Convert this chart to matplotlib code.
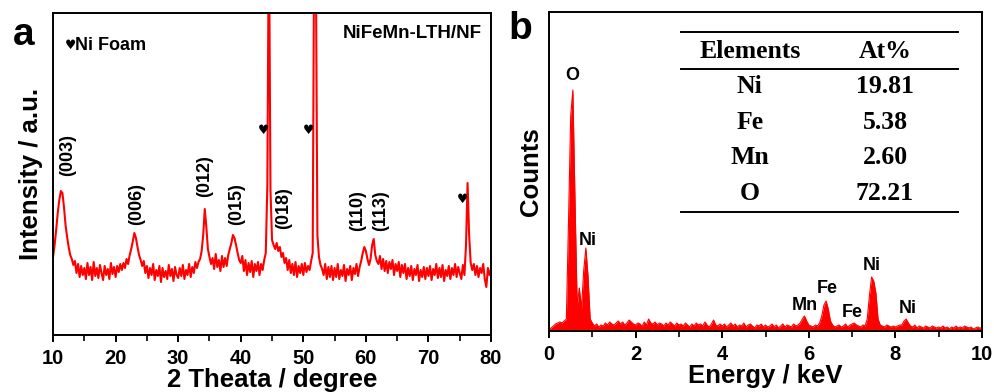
#!/usr/bin/env python
"""XRD pattern (a) and EDS spectrum (b) of NiFeMn-LTH/NF."""

import numpy as np
import matplotlib

matplotlib.use('Agg')
import matplotlib.pyplot as plt  # noqa: E402
from matplotlib.ticker import MultipleLocator  # noqa: E402

# --- (a) XRD: 2theta grid 10..80 deg, step 0.25, intensity in arbitrary units ---
xrd_start, xrd_stop, xrd_step = 10.0, 80.0, 0.25
xrd_intensity = [
    78, 90, 105, 122, 135, 144, 142, 128, 110, 98, 88, 80, 76, 70, 74, 62, 71, 58, 69, 60,
    67, 56, 72, 60, 68, 55, 73, 59, 67, 57, 70, 62, 55, 69, 60, 66, 56, 72, 61, 68,
    58, 69, 63, 71, 65, 72, 67, 76, 71, 80, 86, 94, 102, 97, 88, 80, 75, 69, 74, 62,
    69, 57, 67, 60, 71, 55, 65, 59, 69, 53, 67, 58, 64, 56, 70, 59, 66, 54, 68, 60,
    57, 67, 59, 70, 56, 65, 60, 71, 58, 68, 62, 73, 67, 73, 76, 84, 100, 126, 108, 86,
    78, 71, 77, 66, 81, 68, 75, 64, 79, 68, 77, 69, 80, 86, 92, 100, 97, 90, 82, 75,
    72, 79, 64, 75, 60, 72, 63, 74, 58, 71, 64, 73, 60, 71, 65, 75, 82, 150, 420, 145,
    95, 90, 86, 92, 84, 88, 78, 82, 72, 77, 65, 75, 62, 71, 60, 73, 58, 69, 62, 71,
    60, 72, 63, 69, 65, 74, 82, 420, 380, 100, 78, 70, 66, 60, 71, 56, 68, 58, 69, 55,
    67, 58, 71, 56, 65, 59, 70, 54, 66, 60, 69, 55, 67, 61, 71, 59, 68, 74, 82, 88,
    84, 76, 70, 76, 90, 96, 80, 74, 71, 79, 66, 76, 64, 74, 62, 73, 66, 75, 60, 71,
    64, 73, 58, 70, 62, 71, 56, 67, 59, 69, 55, 66, 60, 70, 54, 65, 58, 68, 56, 67,
    59, 69, 55, 66, 60, 71, 57, 67, 58, 70, 54, 65, 59, 69, 56, 67, 60, 71, 58, 68,
    62, 56, 70, 60, 90, 152, 100, 72, 65, 71, 60, 69, 58, 67, 62, 71, 56, 48, 67, 60,
    66,
]
hkl_labels = ['(003)', '(006)', '(012)', '(015)', '(018)', '(110)', '(113)']
hkl_pos = [(12.4, 180), (23.4, 131), (34.3, 159), (39.4, 131), (46.8, 127), (58.6, 124), (62.3, 124)]
ni_foam_pos = [(43.6, 205), (50.8, 205), (75.5, 136)]

# --- (b) EDS: energy grid 0..10 keV, step 0.05, counts in arbitrary units ---
eds_start, eds_stop, eds_step = 0.0, 10.0, 0.05
eds_counts = [
    2, 3, 5, 7, 8, 9, 8, 10, 12, 110, 215, 241, 130, 25, 43, 22, 60, 83, 55, 12,
    8, 5, 7, 4, 6, 5, 8, 6, 9, 7, 6, 8, 10, 7, 9, 6, 8, 11, 9, 7,
    6, 8, 7, 5, 9, 6, 12, 8, 7, 9, 6, 8, 7, 5, 8, 6, 9, 7, 5, 8,
    6, 7, 5, 8, 6, 4, 7, 5, 8, 6, 7, 5, 9, 6, 4, 7, 11, 6, 5, 7,
    5, 7, 4, 6, 8, 5, 7, 4, 6, 5, 8, 4, 6, 7, 5, 3, 6, 5, 7, 4,
    6, 4, 5, 7, 4, 6, 3, 5, 7, 4, 6, 5, 4, 7, 5, 6, 8, 12, 15, 10,
    6, 5, 4, 6, 5, 8, 15, 26, 30, 22, 10, 6, 4, 5, 6, 4, 5, 7, 4, 6,
    7, 8, 6, 5, 4, 6, 5, 12, 35, 54, 50, 38, 12, 6, 5, 4, 6, 5, 4, 5,
    4, 5, 6, 6, 10, 12, 8, 5, 4, 6, 3, 5, 4, 3, 5, 4, 3, 5, 4, 3,
    4, 3, 5, 3, 4, 2, 4, 3, 5, 3, 4, 3, 5, 4, 3, 4, 2, 3, 4, 3,
    3,
]
eds_labels = ['O', 'Ni', 'Mn', 'Fe', 'Fe', 'Ni', 'Ni']
eds_label_pos = [(0.53, 255), (0.90, 91), (5.91, 26), (6.42, 43), (7.0, 19), (7.46, 66), (8.29, 23)]

table_header = ['Elements', 'At%']
table_elements = ['Ni', 'Fe', 'Mn', 'O']
table_at_pct = ['19.81', '5.38', '2.60', '72.21']

RED = '#ff0000'
SANS = ['Liberation Sans', 'DejaVu Sans']


def _style_axis(ax, major, minor):
    for sp in ax.spines.values():
        sp.set_linewidth(1.4)
    ax.xaxis.set_major_locator(MultipleLocator(major))
    ax.xaxis.set_minor_locator(MultipleLocator(minor))
    ax.tick_params(axis='x', which='major', direction='out', length=5, width=1.4,
                   labelsize=14.5, pad=5)
    ax.tick_params(axis='x', which='minor', direction='out', length=4, width=1.2)
    ax.tick_params(axis='y', left=False, labelleft=False)
    for lab in ax.get_xticklabels():
        lab.set_fontweight('bold')


def main() -> None:
    plt.rcParams['font.family'] = SANS
    plt.rcParams['font.weight'] = 'bold'

    fig = plt.figure(figsize=(9.95, 3.92), dpi=100)

    # --- (a) XRD ---
    ax_a = fig.add_axes([0.0533, 0.1454, 0.4402, 0.8214])
    two_theta = np.arange(xrd_start, xrd_stop + xrd_step / 2, xrd_step)
    ax_a.plot(two_theta, xrd_intensity, color=RED, lw=1.5)
    ax_a.set_xlim(10, 80)
    ax_a.set_ylim(0, 322)
    _style_axis(ax_a, 10, 5)
    ax_a.set_xlabel('2 Theata / degree', fontsize=18.5, fontweight='bold', labelpad=0)
    ax_a.set_ylabel('Intensity / a.u.', fontsize=18.5, fontweight='bold', labelpad=7)

    for lab, (x, y) in zip(hkl_labels, hkl_pos):
        ax_a.text(x, y, lab, rotation=90, ha='center', va='center', fontsize=13,
                  fontweight='bold')
    for x, y in ni_foam_pos:
        ax_a.text(x, y, '\u2665', ha='center', va='center', fontsize=9,
                  family='DejaVu Sans')
    ax_a.text(0.027, 0.90, '\u2665', transform=ax_a.transAxes, ha='left',
              va='center', fontsize=9, family='DejaVu Sans')
    ax_a.text(0.05, 0.90, 'Ni Foam', transform=ax_a.transAxes, ha='left',
              va='center', fontsize=13, fontweight='bold')
    ax_a.text(0.978, 0.935, 'NiFeMn-LTH/NF', transform=ax_a.transAxes, ha='right',
              va='center', fontsize=13.5, fontweight='bold')

    # --- (b) EDS ---
    ax_b = fig.add_axes([0.5518, 0.1556, 0.4351, 0.8138])
    energy = np.arange(eds_start, eds_stop + eds_step / 2, eds_step)
    ax_b.fill_between(energy, 0, eds_counts, color=RED, lw=0)
    ax_b.plot(energy, eds_counts, color=RED, lw=0.8)
    ax_b.set_xlim(0, 10)
    ax_b.set_ylim(0, 319)
    _style_axis(ax_b, 2, 1)
    ax_b.set_xlabel('Energy / keV', fontsize=18.5, fontweight='bold', labelpad=0)
    ax_b.set_ylabel('Counts', fontsize=18.5, fontweight='bold', labelpad=4)

    for lab, (x, y) in zip(eds_labels, eds_label_pos):
        ax_b.text(x, y, lab, ha='center', va='center', fontsize=13, fontweight='bold')

    # composition table (axes fraction coordinates)
    serif = dict(family='Liberation Serif', fontsize=18.5, fontweight='bold',
                 ha='center', va='center', transform=ax_b.transAxes)
    col_x = [0.464, 0.776]
    for yl in (0.937, 0.821, 0.373):
        ax_b.plot([0.305, 0.945], [yl, yl], color='black', lw=1.4,
                  transform=ax_b.transAxes)
    for cx, head in zip(col_x, table_header):
        ax_b.text(cx, 0.875, head, **serif)
    row_y = [0.766, 0.654, 0.543, 0.432]
    for ry, el, pct in zip(row_y, table_elements, table_at_pct):
        ax_b.text(col_x[0], ry, el, **serif)
        ax_b.text(col_x[1], ry, pct, **serif)

    # panel letters
    fig.text(0.024, 0.91, 'a', fontsize=28, fontweight='bold', ha='center', va='center')
    fig.text(0.523, 0.925, 'b', fontsize=28, fontweight='bold', ha='center', va='center')

    fig.savefig('out.png', dpi=100)


if __name__ == '__main__':
    main()
